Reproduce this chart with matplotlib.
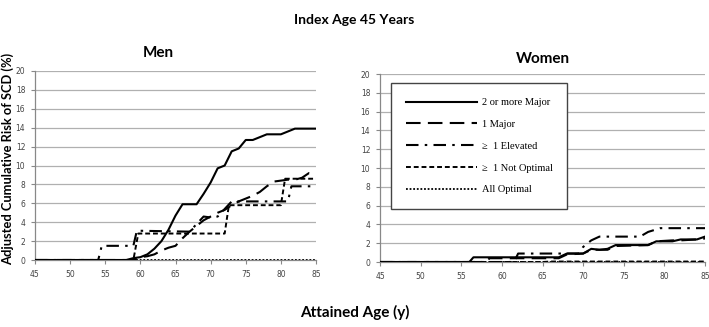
import matplotlib
matplotlib.use("Agg")
import matplotlib.pyplot as plt
from matplotlib.lines import Line2D

# ---------------- data ----------------
men_major2_x = [45, 58, 59, 60, 61, 62, 63, 64, 65, 66, 67, 68, 69, 70, 71, 72, 73, 74, 75, 76, 77, 78, 79, 80, 81, 82, 85]
men_major2_y = [0, 0, 0.2, 0.3, 0.6, 1.2, 2.0, 3.2, 4.7, 5.9, 5.9, 5.9, 7.0, 8.2, 9.7, 10.0, 11.5, 11.8, 12.7, 12.7, 13.0, 13.3, 13.3, 13.3, 13.6, 13.9, 13.9]

men_major1_x = [45, 59, 60, 61, 62, 63, 64, 65, 66, 67, 68, 69, 70, 71, 72, 73, 74, 75, 76, 77, 78, 79, 80, 81, 82, 83, 84, 85]
men_major1_y = [0, 0, 0.3, 0.4, 0.6, 1.0, 1.3, 1.5, 2.3, 3.0, 3.6, 4.2, 4.6, 5.0, 5.3, 5.8, 6.2, 6.5, 6.8, 7.2, 7.8, 8.3, 8.4, 8.5, 8.5, 8.7, 9.2, 9.1]

men_elev_x = [45, 54, 54.5, 59, 59.5, 67, 68, 69, 70, 71, 72, 73, 74, 80, 81, 81.5, 85]
men_elev_y = [0, 0, 1.5, 1.5, 3.1, 3.0, 3.8, 4.6, 4.5, 4.6, 5.4, 6.2, 6.2, 6.2, 6.2, 7.8, 7.8]

men_notopt_x = [45, 59, 59.7, 72, 72.6, 80, 80.6, 85]
men_notopt_y = [0, 0, 2.8, 2.8, 5.8, 5.8, 8.6, 8.6]

men_allopt_x = [45, 85]
men_allopt_y = [0, 0]

women_major2_x = [45, 56, 56.5, 67, 68, 70, 71, 72, 73, 74, 78, 79, 81, 82, 84, 85]
women_major2_y = [0, 0, 0.5, 0.5, 0.9, 0.9, 1.4, 1.3, 1.4, 1.8, 1.8, 2.2, 2.2, 2.4, 2.4, 2.7]

women_major1_x = [45, 58, 58.5, 67, 68, 70, 71, 73, 74, 78, 79, 81, 82, 84, 85]
women_major1_y = [0, 0, 0.4, 0.4, 0.8, 0.9, 1.3, 1.3, 1.7, 1.8, 2.2, 2.3, 2.3, 2.4, 2.5]

women_elev_x = [45, 61.5, 62, 69.5, 70, 71, 72, 77, 78, 79.5, 85]
women_elev_y = [0, 0, 0.9, 0.9, 1.6, 2.3, 2.7, 2.7, 3.2, 3.6, 3.6]

women_notopt_x = [45, 65, 66, 85]
women_notopt_y = [0, 0, 0.05, 0.05]

women_allopt_x = [45, 85]
women_allopt_y = [0, 0]

labels = ["2 or more Major", "1 Major", "\u2265  1 Elevated", "\u2265  1 Not Optimal", "All Optimal"]
yticks = list(range(0, 21, 2))
xticks = list(range(45, 86, 5))

# ---------------- styles ----------------
styles = [
    dict(linestyle="-", linewidth=1.5),
    dict(linestyle=(0, (7, 3.5)), linewidth=1.5),
    dict(linestyle=(0, (6, 3, 1.2, 3)), linewidth=1.5),
    dict(linestyle=(0, (2.5, 1.5)), linewidth=1.4),
    dict(linestyle=(0, (1, 1)), linewidth=1.3),
]

fig = plt.figure(figsize=(7.09, 3.27), dpi=100)
ax_m = fig.add_axes([35/709, (327-260)/327, 281/709, 189/327])
ax_w = fig.add_axes([380/709, (327-262)/327, 325/709, 188/327])

men = [(men_major2_x, men_major2_y), (men_major1_x, men_major1_y), (men_elev_x, men_elev_y),
       (men_notopt_x, men_notopt_y), (men_allopt_x, men_allopt_y)]
women = [(women_major2_x, women_major2_y), (women_major1_x, women_major1_y), (women_elev_x, women_elev_y),
         (women_notopt_x, women_notopt_y), (women_allopt_x, women_allopt_y)]

for ax, data in ((ax_m, men), (ax_w, women)):
    for (x, y), st, lab in zip(data, styles, labels):
        ax.plot(x, y, color="black", label=lab, zorder=3, **st)
    ax.set_xlim(45, 85)
    ax.set_ylim(0, 20)
    ax.set_xticks(xticks)
    ax.set_yticks(yticks)
    ax.grid(axis="y", color="#b0b0b0", linewidth=0.9)
    ax.set_axisbelow(True)
    for s in ("top", "right"):
        ax.spines[s].set_visible(False)
    for s in ("left", "bottom"):
        ax.spines[s].set_color("#888888")
        ax.spines[s].set_linewidth(0.9)
    ax.tick_params(axis="both", labelsize=5.5, colors="#888888", labelcolor="#444444",
                   length=3, width=0.8, direction="out", pad=4)

ax_m.text(0.438, 1.095, "Men", transform=ax_m.transAxes, ha="center", va="center",
          fontsize=11, fontweight="bold", family="Lato")
ax_w.set_title("Women", fontsize=11, fontweight="bold", family="Lato", pad=8)

handles = [Line2D([0], [0], color="black", **st) for st in styles]
leg = ax_w.legend(handles, labels, loc="upper left", bbox_to_anchor=(0.035, 0.95),
                  prop={"family": "Liberation Serif", "size": 7.5},
                  handlelength=6.8, handletextpad=0.5, labelspacing=1.2,
                  borderpad=1.4, frameon=True, fancybox=False, framealpha=1,
                  edgecolor="#444444", borderaxespad=0)
leg.get_frame().set_linewidth(1.0)

fig.text(0.5, 0.94, "Index Age 45 Years", ha="center", va="center",
         fontsize=10, fontweight="bold", family="Lato")
fig.text(0.5, 0.045, "Attained Age (y)", ha="center", va="center",
         fontsize=11, fontweight="bold", family="Lato")
fig.text(0.0115, 0.514, "Adjusted Cumulative Risk of SCD (%)", ha="center", va="center",
         rotation=90, fontsize=9.3, fontweight="bold", family="Lato")

fig.savefig("out.png", dpi=100)
